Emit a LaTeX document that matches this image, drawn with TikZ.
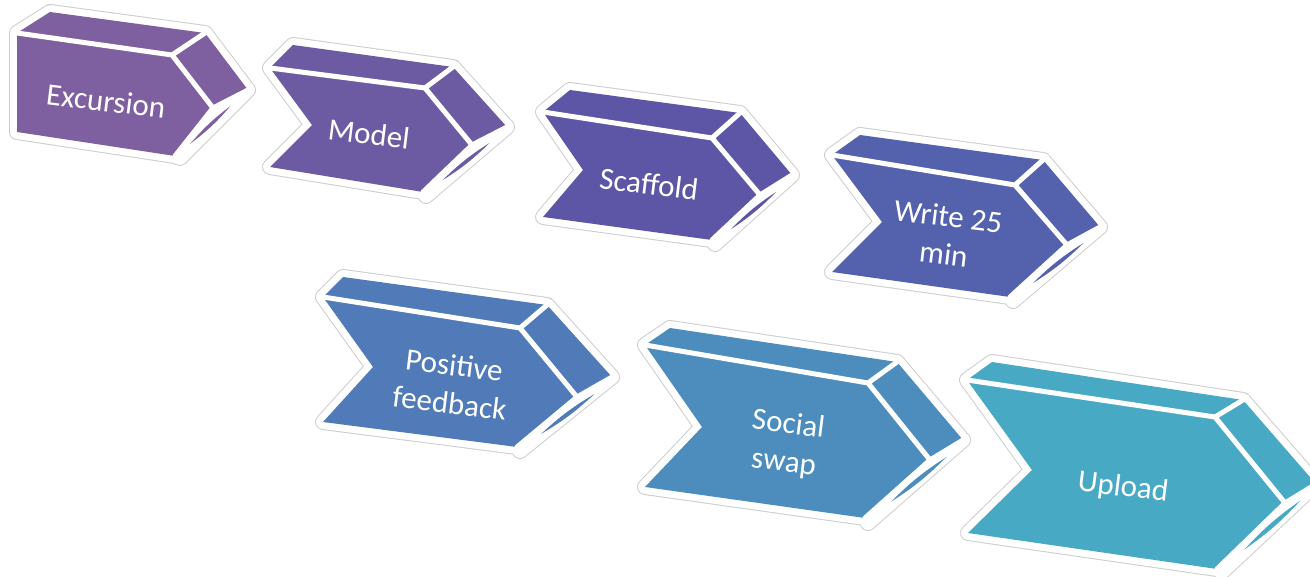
\documentclass[tikz,border=0pt]{standalone}
\usepackage{fontspec}
\setmainfont{Carlito}
\usetikzlibrary{calc}
\definecolor{c1}{RGB}{126,96,160}
\definecolor{c2}{RGB}{108,91,162}
\definecolor{c3}{RGB}{93,86,166}
\definecolor{c4}{RGB}{84,98,174}
\definecolor{c5}{RGB}{80,122,184}
\definecolor{c6}{RGB}{76,141,190}
\definecolor{c7}{RGB}{72,169,196}
\definecolor{halogray}{RGB}{205,205,205}
\tikzset{
  halo/.style={draw=halogray, line width=16pt, line join=round},
  haloin/.style={draw=white, fill=white, line width=14pt, line join=round},
  seam/.style={draw=white, line width=5pt, line join=round, line cap=round},
  lbl/.style={text=white, font=\fontsize{31}{38}\selectfont, align=center, rotate=-7, inner sep=0pt},
}
\newcommand\drawchev[1]{%
  \path[halo] (A)--(At)--(Bt)--(Ct)--(Db)--(D)--(E)--(N)--cycle;
  \path[haloin] (A)--(At)--(Bt)--(Ct)--(Db)--(D)--(E)--(N)--cycle;
  \fill[#1] (A)--(At)--(Bt)--(Ct)--(C)--(D)--(E)--(N)--cycle;
  \coordinate (P1) at ($(C)!0.5!(Ct)+(0,7)$);
  \coordinate (P2) at ($(D)!0.4!(C)+(0,7)$);
  \fill[#1] (P1) to[bend left=6] (P2) to[bend left=6] (P1);
  \path[seam] (A)--(B)--(C)--(D) (B)--(Bt) (C)--(Ct);
}
\begin{document}
\begin{tikzpicture}[x=1pt,y=-1pt]
\useasboundingbox (0,0) rectangle (1310,577);
\clip (0,0) rectangle (1310,577);
% 1 Excursion
\begin{scope}
\coordinate (A) at (17,33); \coordinate (At) at (50,12); \coordinate (Bt) at (205,33);
\coordinate (Ct) at (248,90); \coordinate (Db) at (180,158); \coordinate (D) at (175,156);
\coordinate (E) at (17,132); \coordinate (N) at (17,83); \coordinate (B) at (172,55);
\coordinate (C) at (213,108);
\drawchev{c1}
\node[lbl] (t1) at (106,101) {Excursion};
\end{scope}
% 2 Model
\begin{scope}
\coordinate (A) at (270,68); \coordinate (At) at (293,45); \coordinate (Bt) at (453,67);
\coordinate (Ct) at (507,127); \coordinate (Db) at (426,196); \coordinate (D) at (423,192);
\coordinate (E) at (270,167); \coordinate (N) at (312,125); \coordinate (B) at (425,88);
\coordinate (C) at (472,145);
\drawchev{c2}
\node[lbl] (t2) at (369,134) {Model};
\end{scope}
% 3 Scaffold
\begin{scope}
\coordinate (A) at (543,112); \coordinate (At) at (570,90); \coordinate (Bt) at (740,113);
\coordinate (Ct) at (792,175); \coordinate (Db) at (715,244); \coordinate (D) at (712,240);
\coordinate (E) at (543,217); \coordinate (N) at (583,170); \coordinate (B) at (712,138);
\coordinate (C) at (760,195);
\drawchev{c3}
\node[lbl] (t3) at (649,184) {Scaffold};
\end{scope}
% 4 Write 25 min
\begin{scope}
\coordinate (A) at (832,155); \coordinate (At) at (860,135); \coordinate (Bt) at (1043,160);
\coordinate (Ct) at (1100,227); \coordinate (Db) at (1013,301); \coordinate (D) at (1010,297);
\coordinate (E) at (832,272); \coordinate (N) at (882,222); \coordinate (B) at (1015,185);
\coordinate (C) at (1067,245);
\drawchev{c4}
\node[lbl] (t4) at (946,235) {Write 25\\min};
\end{scope}
% 5 Positive feedback
\begin{scope}
\coordinate (A) at (323,297); \coordinate (At) at (343,277); \coordinate (Bt) at (547,305);
\coordinate (Ct) at (612,377); \coordinate (Db) at (520,451); \coordinate (D) at (517,447);
\coordinate (E) at (323,422); \coordinate (N) at (373,367); \coordinate (B) at (520,328);
\coordinate (C) at (577,397);
\drawchev{c5}
\node[lbl] (t5) at (452,384) {Positive\\feedback};
\end{scope}
% 6 Social swap
\begin{scope}
\coordinate (A) at (645,345); \coordinate (At) at (670,328); \coordinate (Bt) at (897,362);
\coordinate (Ct) at (963,440); \coordinate (Db) at (868,523); \coordinate (D) at (865,518);
\coordinate (E) at (645,487); \coordinate (N) at (702,427); \coordinate (B) at (868,383);
\coordinate (C) at (930,460);
\drawchev{c6}
\node[lbl] (t6) at (786,444) {Social\\swap};
\end{scope}
% 7 Upload
\begin{scope}
\coordinate (A) at (967,380); \coordinate (At) at (992,362); \coordinate (Bt) at (1243,400);
\coordinate (Ct) at (1316,484); \coordinate (Db) at (1222,572); \coordinate (D) at (1217,569);
\coordinate (E) at (968,533); \coordinate (N) at (1032,470); \coordinate (B) at (1215,417);
\coordinate (C) at (1285,503);
\drawchev{c7}
\node[lbl] (t7) at (1123,488) {Upload};
\end{scope}
\end{tikzpicture}
\end{document}
